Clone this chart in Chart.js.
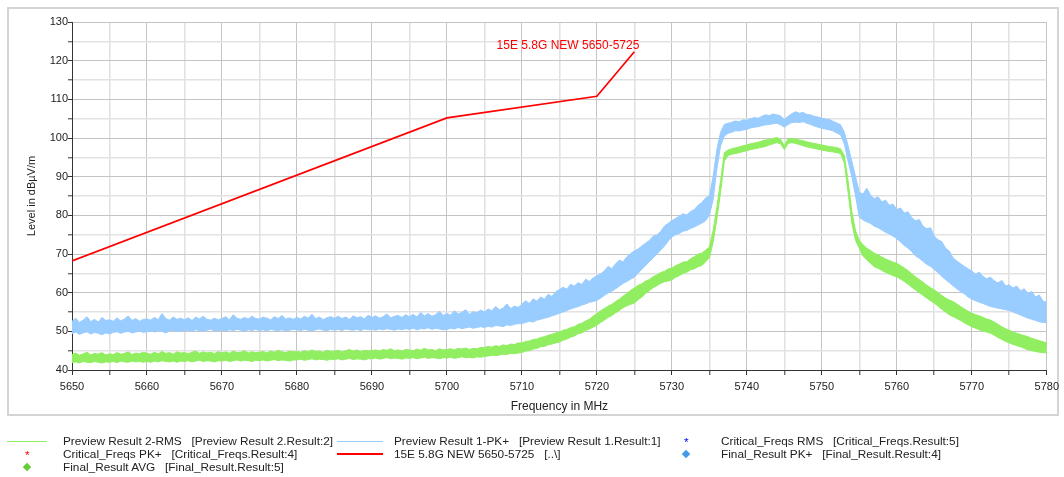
<!DOCTYPE html>
<html>
<head>
<meta charset="utf-8">
<script src="https://cdn.jsdelivr.net/npm/chart.js@4.4.1/dist/chart.umd.min.js"></script>
<style>
  html, body { margin:0; padding:0; background:#fff; }
  body { width:1064px; height:477px; position:relative; overflow:hidden; font-family:"Liberation Sans", Arial, sans-serif; }
  #frame { position:absolute; left:7px; top:7px; width:1048px; height:405px; border:2px solid #d4d4d4; }
  #c { position:absolute; left:0; top:0; }
  .lg { position:absolute; font-size:11.8px; color:#222; white-space:pre; line-height:14px; }
  .ln { position:absolute; height:0; }
  .dia { position:absolute; width:6px; height:6px; transform:rotate(45deg); }
</style>
</head>
<body>
<div id="frame"></div>
<canvas id="c" width="1064" height="477"></canvas>

<div class="ln" style="left:7px;top:441px;width:40px;border-top:1px solid #90ee60;"></div>
<div class="lg" style="left:63px;top:434px;">Preview Result 2-RMS   [Preview Result 2.Result:2]</div>
<div class="lg" style="left:25px;top:448px;color:#ff0000;">*</div>
<div class="lg" style="left:63px;top:447px;">Critical_Freqs PK+   [Critical_Freqs.Result:4]</div>
<div class="dia" style="left:24px;top:464px;background:#66cc33;"></div>
<div class="lg" style="left:63px;top:460px;">Final_Result AVG   [Final_Result.Result:5]</div>

<div class="ln" style="left:337px;top:441px;width:46px;border-top:1px solid #99ccff;"></div>
<div class="lg" style="left:394px;top:434px;">Preview Result 1-PK+   [Preview Result 1.Result:1]</div>
<div class="ln" style="left:337px;top:453px;width:46px;border-top:2px solid #ff0000;"></div>
<div class="lg" style="left:394px;top:447px;">15E 5.8G NEW 5650-5725   [..\]</div>

<div class="lg" style="left:684px;top:435px;color:#0000ff;">*</div>
<div class="lg" style="left:721px;top:434px;">Critical_Freqs RMS   [Critical_Freqs.Result:5]</div>
<div class="dia" style="left:683px;top:451px;background:#4499e6;"></div>
<div class="lg" style="left:721px;top:447px;">Final_Result PK+   [Final_Result.Result:4]</div>

<script>
// Frequency grid (MHz)
const freqs = [
5650,5650.5,5651,5651.5,5652,5652.5,5653,5653.5,5654,5654.5,
5655,5655.5,5656,5656.5,5657,5657.5,5658,5658.5,5659,5659.5,
5660,5660.5,5661,5661.5,5662,5662.5,5663,5663.5,5664,5664.5,
5665,5665.5,5666,5666.5,5667,5667.5,5668,5668.5,5669,5669.5,
5670,5670.5,5671,5671.5,5672,5672.5,5673,5673.5,5674,5674.5,
5675,5675.5,5676,5676.5,5677,5677.5,5678,5678.5,5679,5679.5,
5680,5680.5,5681,5681.5,5682,5682.5,5683,5683.5,5684,5684.5,
5685,5685.5,5686,5686.5,5687,5687.5,5688,5688.5,5689,5689.5,
5690,5690.5,5691,5691.5,5692,5692.5,5693,5693.5,5694,5694.5,
5695,5695.5,5696,5696.5,5697,5697.5,5698,5698.5,5699,5699.5,
5700,5700.5,5701,5701.5,5702,5702.5,5703,5703.5,5704,5704.5,
5705,5705.5,5706,5706.5,5707,5707.5,5708,5708.5,5709,5709.5,
5710,5710.5,5711,5711.5,5712,5712.5,5713,5713.5,5714,5714.5,
5715,5715.5,5716,5716.5,5717,5717.5,5718,5718.5,5719,5719.5,
5720,5720.5,5721,5721.5,5722,5722.5,5723,5723.5,5724,5724.5,
5725,5725.5,5726,5726.5,5727,5727.5,5728,5728.5,5729,5729.5,
5730,5730.5,5731,5731.5,5732,5732.5,5733,5733.5,5734,5734.5,
5735,5735.5,5736,5736.5,5737,5737.5,5738,5738.5,5739,5739.5,
5740,5740.5,5741,5741.5,5742,5742.5,5743,5743.5,5744,5744.5,
5745,5745.5,5746,5746.5,5747,5747.5,5748,5748.5,5749,5749.5,
5750,5750.5,5751,5751.5,5752,5752.5,5753,5753.5,5754,5754.5,
5755,5755.5,5756,5756.5,5757,5757.5,5758,5758.5,5759,5759.5,
5760,5760.5,5761,5761.5,5762,5762.5,5763,5763.5,5764,5764.5,
5765,5765.5,5766,5766.5,5767,5767.5,5768,5768.5,5769,5769.5,
5770,5770.5,5771,5771.5,5772,5772.5,5773,5773.5,5774,5774.5,
5775,5775.5,5776,5776.5,5777,5777.5,5778,5778.5,5779,5779.5,
5780];

// Preview Result 1-PK+ (blue band: upper / lower envelope, dBµV/m)
const pkHigh = [
52.6,53.4,52.3,52.9,53.8,52.5,53.1,52.4,53.6,52.8,
53.0,52.6,53.5,52.7,53.2,54.0,52.8,53.3,52.6,53.1,
53.2,52.9,53.6,53.0,54.6,53.3,52.9,53.7,53.1,53.4,
53.0,53.5,52.8,53.7,53.2,53.9,53.1,52.9,53.4,53.0,
53.3,53.8,53.0,54.3,53.4,53.1,53.6,53.2,53.9,53.3,
53.2,53.7,53.4,53.0,53.8,53.3,54.1,53.2,53.5,53.1,
53.6,53.2,53.9,53.4,54.4,53.3,53.7,53.0,53.5,53.8,
53.4,53.9,53.3,53.7,53.1,54.0,53.5,53.8,53.2,54.2,
53.6,54.0,53.4,53.8,54.5,53.5,53.9,54.1,53.6,54.3,
53.8,54.4,53.7,54.9,54.0,54.6,53.9,54.3,55.2,54.1,
54.6,54.2,55.3,54.5,54.9,55.6,54.4,55.1,54.8,55.5,
55.0,55.8,55.3,56.4,55.6,56.0,57.1,55.9,56.5,56.2,
57.0,57.9,57.2,58.4,57.8,58.9,58.3,59.6,59.0,60.2,
60.8,61.4,60.9,62.2,61.7,62.6,62.1,63.5,62.9,63.8,
64.4,64.9,65.6,66.8,66.2,67.5,68.4,68.0,69.3,70.1,
70.8,71.3,72.1,72.8,73.5,74.6,74.9,75.8,77.2,77.9,
78.6,79.2,79.8,80.4,80.1,81.0,81.5,82.6,83.3,84.5,
85.0,90.0,97.0,101.5,103.5,103.8,104.1,104.4,104.2,104.7,
104.6,105.0,105.3,105.1,105.6,106.0,105.8,106.2,106.0,105.7,
104.8,105.6,106.3,106.8,106.4,106.6,106.1,106.0,105.6,105.4,
105.1,104.9,104.8,104.3,103.9,103.4,101.5,98.0,94.0,90.0,
86.0,85.5,87.0,85.2,84.3,84.8,83.5,83.9,82.6,82.9,
81.5,81.9,80.6,80.9,79.4,78.6,78.9,77.2,76.5,76.8,
74.6,73.7,73.2,71.5,70.8,69.0,68.2,67.5,66.8,66.2,
65.6,64.8,65.3,64.2,63.6,64.0,63.1,62.5,63.2,61.8,
62.0,61.2,61.7,60.5,61.0,59.8,60.3,58.9,59.4,57.8,
57.5];
const pkLow = [
49.4,49.8,49.2,49.6,49.9,49.3,49.7,49.5,49.1,49.6,
49.3,49.7,49.9,49.5,49.8,50.0,49.6,49.8,50.1,49.7,
49.9,50.1,49.8,50.2,50.0,49.6,50.1,50.3,49.9,50.2,
50.1,50.3,50.0,50.4,50.2,50.0,50.3,50.5,50.1,50.2,
50.3,50.1,50.4,50.2,50.5,50.3,50.0,50.4,50.2,50.5,
50.2,50.4,50.1,50.5,50.3,50.2,50.4,50.1,50.3,50.5,
50.4,50.2,50.5,50.3,50.1,50.4,50.6,50.3,50.2,50.5,
50.3,50.5,50.2,50.6,50.4,50.3,50.5,50.2,50.6,50.4,
50.5,50.3,50.6,50.4,50.7,50.5,50.3,50.6,50.4,50.7,
50.5,50.8,50.4,50.7,50.6,50.9,50.5,50.8,50.6,50.4,
50.5,50.8,50.6,51.0,50.7,50.9,51.1,50.8,51.0,51.2,
51.0,51.3,51.1,51.5,51.4,51.2,51.7,51.5,51.8,52.0,
52.0,52.3,52.6,52.4,52.9,53.1,53.4,53.6,54.0,54.3,
54.7,55.0,55.4,55.8,56.1,56.4,56.8,57.1,57.5,57.7,
58.0,58.6,59.3,59.9,60.4,61.0,61.7,62.4,62.9,63.5,
64.0,65.0,66.1,67.0,68.0,69.0,70.0,71.0,72.0,73.3,
74.4,75.0,75.3,75.9,76.1,76.6,77.0,77.5,78.0,78.6,
80.0,84.0,92.0,98.0,100.5,101.2,101.5,101.9,101.8,102.1,
102.2,102.6,102.8,102.9,103.2,103.4,103.5,103.7,103.8,103.4,
102.8,103.5,104.0,104.1,104.0,104.2,103.8,103.5,103.1,102.8,
102.5,102.3,102.1,101.8,101.3,100.8,98.5,94.0,90.0,85.0,
79.5,78.8,78.3,77.9,77.2,76.8,76.2,75.6,75.2,74.6,
74.0,73.1,72.2,71.5,70.6,69.5,68.9,68.1,67.3,66.8,
66.0,65.2,64.2,63.4,62.6,61.8,61.0,60.3,59.7,58.9,
58.3,57.9,57.5,57.2,56.8,56.4,56.2,56.0,55.8,55.6,
55.4,55.0,54.6,54.2,53.8,53.4,53.1,52.8,52.5,52.3,
52.2];

// Preview Result 2-RMS (green band: upper / lower envelope, dBµV/m)
const rmsHigh = [
44.0,44.4,43.8,44.2,44.6,43.9,44.3,44.1,44.5,43.9,
44.2,44.0,44.5,44.1,44.3,44.7,44.0,44.4,44.2,44.6,
44.3,44.1,44.6,44.2,44.8,44.3,44.5,44.1,44.7,44.4,
44.5,44.2,44.6,44.9,44.3,44.7,44.4,44.6,44.2,44.8,
44.4,44.7,44.3,44.9,44.5,44.6,45.0,44.4,44.7,44.5,
44.6,44.8,44.4,44.9,44.6,45.1,44.7,44.5,44.9,44.7,
44.8,44.6,45.0,44.7,45.2,44.8,44.9,44.6,45.1,44.8,
44.9,45.1,44.7,45.0,45.3,44.9,45.2,44.8,45.1,45.0,
45.0,45.2,44.9,45.3,45.1,45.5,45.0,45.2,44.9,45.3,
45.2,45.0,45.4,45.1,45.6,45.2,45.3,45.0,45.5,45.2,
45.3,45.5,45.2,45.6,45.4,45.7,45.3,45.6,45.5,45.8,
45.8,46.1,45.9,46.3,46.1,46.5,46.3,46.7,46.6,47.0,
47.0,47.4,47.5,47.9,48.0,48.4,48.6,49.0,49.2,49.6,
49.8,50.3,50.5,51.0,51.2,51.8,52.1,52.7,53.1,53.9,
54.6,55.3,55.9,56.5,57.0,57.7,58.3,59.1,59.8,60.6,
61.2,61.9,62.3,63.0,63.4,64.1,64.6,65.2,65.5,66.1,
66.4,67.0,67.4,67.9,68.0,68.8,69.3,70.0,70.2,71.0,
71.8,76.0,82.0,89.0,96.2,96.9,97.2,97.5,97.7,98.0,
98.2,98.5,98.7,98.9,99.2,99.5,99.6,99.9,100.1,99.7,
98.0,99.8,99.9,99.7,99.5,99.3,99.0,98.8,98.6,98.4,
98.2,98.0,97.8,97.7,97.5,97.2,95.5,89.0,81.0,76.0,
73.5,72.4,71.5,70.9,70.2,69.8,69.2,68.7,68.3,67.9,
67.6,67.0,66.4,65.7,64.9,64.1,63.4,62.7,61.9,61.3,
60.7,60.0,59.3,58.6,58.1,57.7,57.1,56.4,55.8,55.2,
54.7,54.3,54.0,53.6,53.2,52.9,52.4,51.8,51.2,50.7,
50.3,49.8,49.5,49.2,48.9,48.6,48.2,47.9,47.6,47.3,
47.0];
const rmsLow = [
41.9,42.1,41.8,42.2,42.0,41.9,42.2,42.0,41.8,42.1,
42.0,42.2,41.9,42.3,42.1,42.0,42.3,42.1,42.2,42.0,
42.2,42.0,42.3,42.1,42.4,42.2,42.1,42.3,42.0,42.3,
42.2,42.4,42.1,42.3,42.5,42.2,42.4,42.3,42.1,42.4,
42.3,42.5,42.2,42.4,42.6,42.3,42.5,42.4,42.2,42.5,
42.4,42.6,42.3,42.5,42.7,42.4,42.6,42.5,42.3,42.6,
42.6,42.8,42.5,42.7,42.9,42.6,42.8,42.7,42.5,42.8,
42.7,42.9,42.6,42.8,43.0,42.7,42.9,42.8,42.6,42.9,
42.9,43.1,42.8,43.0,43.2,42.9,43.1,43.0,42.8,43.1,
43.0,43.2,42.9,43.1,43.3,43.0,43.2,43.1,42.9,43.2,
43.1,43.3,43.0,43.2,43.4,43.2,43.3,43.1,43.4,43.3,
43.5,43.6,43.8,43.7,43.9,44.1,44.0,44.3,44.2,44.4,
44.5,44.9,45.0,45.4,45.6,46.0,46.1,46.5,46.7,47.0,
47.2,47.7,48.0,48.5,48.8,49.4,49.6,50.2,50.6,51.1,
51.6,52.3,52.9,53.6,54.1,54.8,55.4,56.1,56.6,57.0,
57.3,58.2,58.9,59.8,60.5,61.3,61.8,62.4,62.8,63.0,
63.3,64.0,64.4,65.0,65.3,65.9,66.2,66.7,67.0,68.0,
69.0,73.0,79.0,86.0,94.0,95.5,95.8,96.0,96.2,96.5,
96.7,97.0,97.2,97.4,97.6,97.8,98.2,98.5,98.8,98.5,
97.0,98.6,98.8,98.6,98.3,98.0,97.7,97.5,97.3,97.1,
96.9,96.7,96.5,96.4,96.2,96.0,93.5,86.0,78.0,73.5,
71.5,69.4,68.5,67.6,66.7,66.3,65.8,65.2,64.8,64.4,
64.1,63.5,62.9,62.2,61.4,60.7,60.0,59.3,58.6,57.9,
57.3,56.5,55.7,55.0,54.3,53.8,53.3,52.8,52.2,51.7,
51.2,50.8,50.4,50.1,49.8,49.5,49.0,48.4,47.9,47.4,
47.0,46.6,46.3,46.0,45.6,45.2,45.0,44.8,44.6,44.5,
44.4];

// Limit line 15E 5.8G NEW 5650-5725
const limitFreqs = [5650, 5700, 5720, 5725];
const limitLevels = [68.2, 105.2, 110.8, 122.3];
const limitLabel = "15E 5.8G NEW 5650-5725";

const xTickLabels = [5650,5660,5670,5680,5690,5700,5710,5720,5730,5740,5750,5760,5770,5780];
const yTickLabels = [40,50,60,70,80,90,100,110,120,130];

const GREEN = "rgb(144,238,96)";
const BLUE = "rgb(153,204,255)";

const pts = (xs, ys) => xs.map((x, i) => ({x: x, y: ys[i]}));

const limitLabelPlugin = {
  id: "limitLabel",
  afterDatasetsDraw(chart) {
    const {ctx, scales} = chart;
    const n = limitFreqs.length - 1;
    const x = scales.x.getPixelForValue(limitFreqs[n]) + 5;
    const y = scales.y.getPixelForValue(limitLevels[n]) - 3;
    ctx.save();
    ctx.font = '12px "Liberation Sans", Arial, sans-serif';
    ctx.fillStyle = "#ff0000";
    ctx.textAlign = "right";
    ctx.textBaseline = "alphabetic";
    ctx.fillText(limitLabel, x, y);
    ctx.restore();
  }
};

const gridColor = (v) => (v % 10 === 0 ? "#c4c4c4" : "#e2e2e2");
const gridWidth = (v) => (v % 10 === 0 ? 1 : 1.6);

new Chart(document.getElementById("c"), {
  type: "line",
  data: {
    datasets: [
      { label: "15E 5.8G NEW 5650-5725", data: pts(limitFreqs, limitLevels), borderColor: "#ff0000", borderWidth: 1.7, pointRadius: 0, fill: false, tension: 0 },
      { label: "Preview Result 2-RMS", data: pts(freqs, rmsHigh), borderColor: GREEN, backgroundColor: GREEN, borderWidth: 1, pointRadius: 0, fill: "+1", tension: 0 },
      { label: "Preview Result 2-RMS low", data: pts(freqs, rmsLow), borderColor: GREEN, borderWidth: 1, pointRadius: 0, fill: false, tension: 0 },
      { label: "Preview Result 1-PK+", data: pts(freqs, pkHigh), borderColor: BLUE, backgroundColor: BLUE, borderWidth: 1, pointRadius: 0, fill: "+1", tension: 0 },
      { label: "Preview Result 1-PK+ low", data: pts(freqs, pkLow), borderColor: BLUE, borderWidth: 1, pointRadius: 0, fill: false, tension: 0 }
    ]
  },
  options: {
    responsive: false,
    animation: false,
    devicePixelRatio: 1,
    events: [],
    layout: { padding: { left: 0, top: 22, right: 17, bottom: 62 } },
    plugins: { legend: { display: false }, tooltip: { enabled: false } },
    scales: {
      x: {
        type: "linear",
        min: 5650, max: 5780,
        afterFit: (s) => { s.height = 45; },
        ticks: {
          stepSize: 5, autoSkip: false, maxRotation: 0, padding: 5,
          color: "#222", font: { size: 11, family: '"Liberation Sans", Arial, sans-serif' },
          callback: (v) => (xTickLabels.includes(v) ? String(v) : "")
        },
        grid: {
          color: (c) => gridColor(c.tick ? c.tick.value : 0),
          lineWidth: (c) => gridWidth(c.tick ? c.tick.value : 0),
          tickColor: "#333", tickLength: 5, tickWidth: 1
        },
        border: { display: true, color: "#333", width: 1 },
        title: { display: true, text: "Frequency in MHz", color: "#222", font: { size: 12, family: '"Liberation Sans", Arial, sans-serif' }, padding: { top: 0, bottom: 1 } }
      },
      y: {
        min: 40, max: 130,
        afterFit: (s) => { s.width = 72; },
        ticks: {
          stepSize: 5, autoSkip: false, padding: 0,
          color: "#222", font: { size: 11, family: '"Liberation Sans", Arial, sans-serif' },
          callback: (v) => (yTickLabels.includes(v) ? String(v) : "")
        },
        grid: {
          color: (c) => gridColor(c.tick ? c.tick.value : 0),
          lineWidth: (c) => gridWidth(c.tick ? c.tick.value : 0),
          tickColor: "#333", tickLength: 4, tickWidth: 1
        },
        border: { display: true, color: "#333", width: 1 },
        title: { display: true, text: "Level in dBµV/m", color: "#222", font: { size: 11, family: '"Liberation Sans", Arial, sans-serif' }, padding: { top: 25, bottom: 0 } }
      }
    }
  },
  plugins: [limitLabelPlugin]
});
</script>
</body>
</html>
